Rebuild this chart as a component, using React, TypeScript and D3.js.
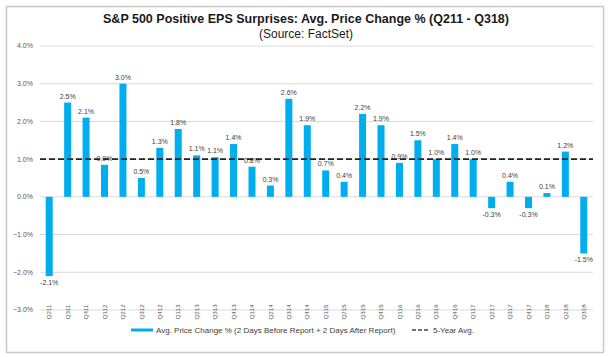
import React from "react";
import * as d3 from "d3";

const categories = ["Q211","Q311","Q411","Q112","Q212","Q312","Q412","Q113","Q213","Q313","Q413","Q114","Q214","Q314","Q414","Q115","Q215","Q315","Q415","Q116","Q216","Q316","Q416","Q117","Q217","Q317","Q417","Q118","Q218","Q318"];
const values = [-2.1,2.5,2.1,0.85,3.0,0.5,1.3,1.8,1.1,1.05,1.4,0.8,0.3,2.6,1.9,0.7,0.4,2.2,1.9,0.9,1.5,1.0,1.4,1.0,-0.3,0.4,-0.3,0.1,1.2,-1.5];
const labels = ["-2.1%","2.5%","2.1%","0.9%","3.0%","0.5%","1.3%","1.8%","1.1%","1.1%","1.4%","0.8%","0.3%","2.6%","1.9%","0.7%","0.4%","2.2%","1.9%","0.9%","1.5%","1.0%","1.4%","1.0%","-0.3%","0.4%","-0.3%","0.1%","1.2%","-1.5%"];
const yTicks = [4, 3, 2, 1, 0, -1, -2, -3];
const fiveYearAvg = 1.0;
const title = "S&P 500 Positive EPS Surprises: Avg. Price Change % (Q211 - Q318)";
const subtitle = "(Source: FactSet)";
const legendBar = "Avg. Price Change % (2 Days Before Report + 2 Days After Report)";
const legendLine = "5-Year Avg.";

export default function App() {
  const W = 611, H = 357;
  const x = d3.scaleBand<string>().domain(categories).range([40, 593]).paddingInner(0.62).paddingOuter(0.31);
  const y = d3.scaleLinear().domain([-3, 4]).range([310, 46]);
  const font = "Arial, 'Liberation Sans', sans-serif";
  const blue = "#00AEEF";
  return (
    <svg width={W} height={H} style={{ position: "absolute", left: 0, top: 0, background: "#fff" }} fontFamily={font}>
      <rect x={6.5} y={6.5} width={597} height={346} fill="#fff" stroke="#c8c8c8" strokeWidth={1.5} />
      <text x={306} y={23} textAnchor="middle" fontSize={12.5} fontWeight="bold" fill="#1a1a1a">{title}</text>
      <text x={306} y={38} textAnchor="middle" fontSize={12} fill="#1a1a1a">{subtitle}</text>
      {yTicks.map(t => (
        <g key={t}>
          <line x1={40} x2={593} y1={y(t)} y2={y(t)} stroke="#d9d9d9" strokeWidth={1} />
          <text x={33} y={y(t)} dy="0.35em" textAnchor="end" fontSize={7} fill="#595959">{d3.format(".1f")(t) + "%"}</text>
        </g>
      ))}
      {categories.map((c, i) => {
        const v = values[i];
        const bx = x(c)!;
        const bw = x.bandwidth();
        const top = y(Math.max(0, v));
        const bot = y(Math.min(0, v));
        const cx = bx + bw / 2;
        return (
          <g key={c}>
            <rect x={bx} y={top} width={bw} height={bot - top} fill={blue} />
            <text x={cx} y={v >= 0 ? top - 4 : bot + 9} textAnchor="middle" fontSize={7} fill="#404040">{labels[i]}</text>
            <text transform={`translate(${cx},${312}) rotate(-90)`} textAnchor="middle" dy="0.35em" fontSize={6.2} fill="#595959">{c}</text>
          </g>
        );
      })}
      <line x1={40} x2={593} y1={y(fiveYearAvg)} y2={y(fiveYearAvg)} stroke="#222" strokeWidth={1.6} strokeDasharray="6,3" />
      <line x1={131} x2={153} y1={330} y2={330} stroke={blue} strokeWidth={3} />
      <text x={156} y={330} dy="0.35em" fontSize={8} fill="#404040">{legendBar}</text>
      <line x1={412} x2={430} y1={330} y2={330} stroke="#444" strokeWidth={1.5} strokeDasharray="4,2" />
      <text x={433} y={330} dy="0.35em" fontSize={8} fill="#404040">{legendLine}</text>
    </svg>
  );
}
